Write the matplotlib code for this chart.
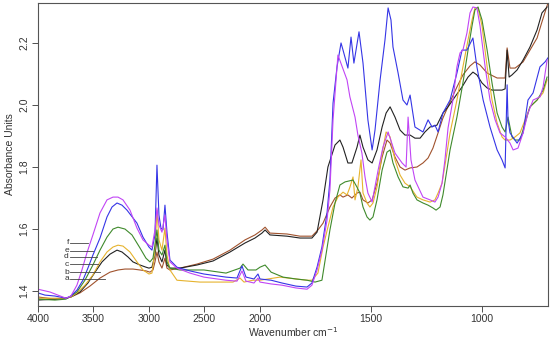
import numpy as np
import matplotlib
matplotlib.use('Agg')
import matplotlib.pyplot as plt

plt.rcParams['font.family'] = ['Liberation Sans', 'DejaVu Sans']

# spectra: (wavenumber, absorbance)
wn_a = [4000, 3847, 3748, 3703, 3622, 3532, 3441, 3351, 3279, 3216, 3144, 3081, 3027, 2991, 2964,
        2946, 2928, 2910, 2883, 2856, 2838, 2811, 2721, 2568, 2423, 2270, 2135, 2045, 1991, 1977,
        1955, 1878, 1820, 1766, 1739, 1716, 1685, 1662, 1640, 1626, 1604, 1586, 1563, 1550, 1536,
        1514, 1495, 1473, 1450, 1428, 1414, 1392, 1369, 1347, 1324, 1293, 1266, 1243, 1221, 1198,
        1176, 1144, 1113, 1086, 1054, 1032, 1009, 977, 932, 896, 887, 874, 851, 815, 784, 752,
        730, 703]
ab_a = [1.381, 1.374, 1.377, 1.381, 1.394, 1.416, 1.442, 1.461, 1.468, 1.471, 1.471, 1.468, 1.465,
        1.461, 1.468, 1.494, 1.526, 1.494, 1.474, 1.506, 1.474, 1.468, 1.474, 1.487, 1.503, 1.532,
        1.565, 1.581, 1.597, 1.606, 1.587, 1.584, 1.577, 1.577, 1.597, 1.619, 1.671, 1.700, 1.710,
        1.703, 1.710, 1.700, 1.716, 1.719, 1.694, 1.684, 1.694, 1.748, 1.832, 1.887, 1.877, 1.832,
        1.800, 1.790, 1.797, 1.800, 1.813, 1.829, 1.861, 1.910, 1.958, 2.010, 2.058, 2.097, 2.126,
        2.139, 2.129, 2.103, 2.087, 2.087, 2.184, 2.119, 2.119, 2.139, 2.177, 2.216, 2.268, 2.329]

wn_b = [4000, 3847, 3748, 3703, 3622, 3550, 3486, 3423, 3351, 3288, 3243, 3189, 3144, 3081, 3027,
        3000, 2973, 2946, 2928, 2910, 2883, 2856, 2838, 2811, 2721, 2568, 2423, 2270, 2135, 2045,
        1991, 1977, 1955, 1878, 1820, 1766, 1743, 1716, 1694, 1662, 1640, 1626, 1604, 1586, 1563,
        1550, 1536, 1514, 1495, 1473, 1450, 1432, 1414, 1392, 1369, 1347, 1324, 1302, 1279, 1257,
        1234, 1203, 1176, 1153, 1122, 1090, 1063, 1041, 1023, 1000, 977, 955, 910, 896, 887, 878,
        865, 842, 815, 784, 752, 730, 707]
ab_b = [1.371, 1.374, 1.377, 1.381, 1.397, 1.426, 1.461, 1.494, 1.519, 1.532, 1.526, 1.510, 1.494,
        1.484, 1.477, 1.474, 1.477, 1.516, 1.571, 1.516, 1.494, 1.532, 1.484, 1.474, 1.474, 1.484,
        1.497, 1.526, 1.555, 1.571, 1.587, 1.597, 1.581, 1.577, 1.571, 1.571, 1.590, 1.694, 1.800,
        1.871, 1.887, 1.864, 1.813, 1.813, 1.864, 1.903, 1.864, 1.823, 1.813, 1.855, 1.929, 1.974,
        1.994, 1.961, 1.919, 1.903, 1.903, 1.893, 1.893, 1.913, 1.929, 1.935, 1.974, 1.994, 2.026,
        2.058, 2.090, 2.106, 2.097, 2.071, 2.055, 2.048, 2.048, 2.052, 2.177, 2.090, 2.097, 2.113,
        2.145, 2.187, 2.242, 2.297, 2.316]

wn_c = [4000, 3847, 3748, 3703, 3649, 3577, 3505, 3441, 3378, 3324, 3279, 3234, 3171, 3108, 3054,
        3000, 2973, 2946, 2928, 2910, 2883, 2856, 2838, 2811, 2748, 2541, 2243, 2180, 2144, 2063,
        2000, 1910, 1838, 1788, 1766, 1739, 1716, 1694, 1671, 1649, 1626, 1608, 1595, 1581, 1572,
        1559, 1545, 1536, 1518, 1505, 1491, 1473, 1450, 1432, 1414, 1392, 1369, 1347, 1324, 1293,
        1266, 1234, 1212, 1198, 1180, 1158, 1144, 1113, 1086, 1063, 1045, 1032, 1018, 1000, 977,
        955, 932, 910, 896, 874, 851, 829, 806, 784, 752, 725, 707]
ab_c = [1.377, 1.377, 1.377, 1.381, 1.394, 1.419, 1.452, 1.494, 1.526, 1.542, 1.548, 1.545, 1.526,
        1.494, 1.468, 1.455, 1.458, 1.532, 1.661, 1.565, 1.532, 1.603, 1.516, 1.468, 1.435, 1.429,
        1.429, 1.442, 1.429, 1.435, 1.435, 1.445, 1.439, 1.435, 1.435, 1.458, 1.542, 1.606, 1.671,
        1.703, 1.719, 1.710, 1.735, 1.768, 1.694, 1.735, 1.823, 1.716, 1.684, 1.671, 1.684, 1.735,
        1.845, 1.913, 1.897, 1.823, 1.774, 1.748, 1.736, 1.703, 1.694, 1.687, 1.694, 1.716, 1.748,
        1.845, 1.910, 2.016, 2.123, 2.210, 2.274, 2.313, 2.313, 2.255, 2.123, 2.016, 1.942, 1.897,
        1.887, 1.887, 1.897, 1.910, 1.952, 1.994, 2.016, 2.039, 2.081]

wn_d = [4000, 3847, 3748, 3703, 3649, 3577, 3505, 3441, 3378, 3324, 3279, 3216, 3153, 3081, 3027,
        2991, 2964, 2946, 2928, 2910, 2883, 2856, 2838, 2811, 2721, 2505, 2306, 2180, 2153, 2108,
        2036, 2000, 1977, 1950, 1896, 1838, 1788, 1752, 1721, 1685, 1662, 1640, 1617, 1581, 1563,
        1550, 1536, 1518, 1505, 1491, 1473, 1450, 1428, 1414, 1401, 1378, 1356, 1333, 1324, 1311,
        1293, 1266, 1243, 1221, 1207, 1189, 1176, 1144, 1113, 1086, 1063, 1045, 1032, 1018, 1000,
        977, 955, 932, 910, 896, 883, 865, 851, 829, 806, 784, 752, 725, 707]
ab_d = [1.374, 1.371, 1.374, 1.384, 1.397, 1.435, 1.484, 1.532, 1.574, 1.600, 1.606, 1.600, 1.581,
        1.539, 1.506, 1.494, 1.506, 1.548, 1.597, 1.532, 1.516, 1.548, 1.494, 1.474, 1.468, 1.468,
        1.458, 1.474, 1.487, 1.468, 1.468, 1.477, 1.484, 1.461, 1.445, 1.439, 1.435, 1.429, 1.435,
        1.597, 1.684, 1.742, 1.752, 1.758, 1.735, 1.716, 1.671, 1.639, 1.629, 1.639, 1.694, 1.790,
        1.848, 1.855, 1.813, 1.768, 1.736, 1.732, 1.742, 1.716, 1.694, 1.684, 1.677, 1.668, 1.661,
        1.671, 1.710, 1.855, 1.961, 2.071, 2.177, 2.255, 2.306, 2.316, 2.274, 2.177, 2.071, 1.974,
        1.929, 1.913, 1.961, 1.897, 1.887, 1.887, 1.942, 1.994, 2.016, 2.048, 2.090]

wn_e = [4000, 3937, 3847, 3748, 3703, 3649, 3595, 3550, 3505, 3441, 3378, 3333, 3288, 3243, 3198,
        3108, 3054, 3000, 2973, 2946, 2928, 2910, 2892, 2874, 2856, 2838, 2811, 2748, 2631, 2505,
        2306, 2207, 2162, 2126, 2054, 2018, 2000, 1950, 1901, 1838, 1788, 1766, 1743, 1721, 1698,
        1685, 1671, 1653, 1635, 1626, 1604, 1590, 1577, 1554, 1536, 1514, 1495, 1482, 1459, 1437,
        1423, 1410, 1401, 1378, 1356, 1338, 1324, 1302, 1266, 1243, 1225, 1212, 1198, 1176, 1144,
        1113, 1090, 1068, 1041, 1023, 995, 964, 932, 910, 896, 887, 883, 874, 842, 815, 793, 770,
        739, 716, 703]
ab_e = [1.394, 1.387, 1.384, 1.377, 1.384, 1.403, 1.435, 1.474, 1.516, 1.571, 1.639, 1.671, 1.684,
        1.677, 1.661, 1.619, 1.574, 1.542, 1.532, 1.581, 1.806, 1.645, 1.603, 1.597, 1.677, 1.590,
        1.500, 1.477, 1.465, 1.455, 1.445, 1.442, 1.481, 1.445, 1.439, 1.455, 1.439, 1.435, 1.426,
        1.416, 1.413, 1.426, 1.477, 1.542, 1.652, 1.758, 2.006, 2.123, 2.200, 2.177, 2.119, 2.219,
        2.135, 2.236, 2.135, 1.952, 1.855, 1.919, 2.081, 2.210, 2.313, 2.274, 2.187, 2.103, 2.016,
        2.000, 2.032, 1.929, 1.913, 1.952, 1.929, 1.935, 1.913, 1.974, 2.016, 2.103, 2.177, 2.177,
        2.216, 2.123, 2.016, 1.929, 1.855, 1.823, 1.797, 2.065, 1.952, 1.910, 1.877, 1.910, 2.016,
        2.039, 2.123, 2.139, 2.152]

wn_f = [4000, 3892, 3748, 3703, 3649, 3604, 3559, 3505, 3441, 3378, 3324, 3279, 3234, 3171, 3108,
        3054, 3000, 2973, 2946, 2928, 2910, 2883, 2856, 2838, 2811, 2748, 2631, 2505, 2306, 2207,
        2162, 2126, 2054, 2018, 2000, 1950, 1901, 1838, 1788, 1766, 1743, 1721, 1698, 1685, 1671,
        1649, 1608, 1595, 1572, 1559, 1541, 1527, 1514, 1495, 1468, 1446, 1423, 1392, 1360, 1342,
        1333, 1320, 1302, 1266, 1234, 1212, 1198, 1180, 1167, 1153, 1131, 1113, 1099, 1086, 1068,
        1054, 1041, 1023, 1009, 986, 964, 941, 919, 896, 874, 860, 838, 815, 793, 770, 739, 725, 707]
ab_f = [1.406, 1.397, 1.377, 1.384, 1.419, 1.468, 1.523, 1.581, 1.652, 1.694, 1.703, 1.703, 1.694,
        1.661, 1.603, 1.565, 1.548, 1.542, 1.597, 1.668, 1.613, 1.590, 1.645, 1.565, 1.494, 1.474,
        1.458, 1.445, 1.435, 1.432, 1.465, 1.432, 1.426, 1.442, 1.429, 1.423, 1.419, 1.410, 1.406,
        1.419, 1.468, 1.532, 1.629, 1.726, 1.952, 2.161, 2.081, 2.026, 1.961, 1.903, 1.845, 1.768,
        1.716, 1.687, 1.790, 1.864, 1.913, 1.845, 1.813, 1.800, 1.961, 1.823, 1.758, 1.703, 1.694,
        1.687, 1.703, 1.748, 1.823, 1.926, 2.016, 2.123, 2.168, 2.177, 2.232, 2.297, 2.316, 2.313,
        2.255, 2.123, 2.016, 1.952, 1.910, 1.897, 1.877, 1.855, 1.861, 1.910, 1.974, 2.016, 2.026,
        2.058, 2.145]

names = ['a', 'b', 'c', 'd', 'e', 'f']
colors = ['#A0522D', '#222222', '#E6B32E', '#3F8A2C', '#3535E6', '#C145F5']
# label height and where its leader line meets the curve
label_y = [1.439, 1.461, 1.487, 1.510, 1.530, 1.556]
leader_end = [3396, 3441, 3460, 3468, 3505, 3550]


def fwd(x):
    x = np.asarray(x, dtype=float)
    return np.where(x > 2000, 2000 + (x - 2000) / 2.0, x)


def inv(t):
    t = np.asarray(t, dtype=float)
    return np.where(t > 2000, 2000 + (t - 2000) * 2.0, t)


fig = plt.figure(figsize=(5.5, 3.43), dpi=100)
ax = fig.add_axes([0.069, 0.108, 0.9273, 0.8834])
ax.set_xscale('function', functions=(fwd, inv))

spectra = [(wn_a, ab_a), (wn_b, ab_b), (wn_c, ab_c), (wn_d, ab_d), (wn_e, ab_e), (wn_f, ab_f)]
for (wn, ab), c in zip(spectra, colors):
    ax.plot(wn, ab, color=c, lw=0.8)

for name, y, x_end in zip(names, label_y, leader_end):
    ax.plot([3712, x_end], [y, y], color='#444444', lw=0.6)
    ax.text(3722, y, name, ha='right', va='center', fontsize=6, color='#333333')

ax.set_xlim(4000, 703)
ax.set_ylim(1.352, 2.329)
ax.set_xticks([4000, 3500, 3000, 2500, 2000, 1500, 1000])
ax.set_xticklabels(['4000', '3500', '3000', '2500', '2000', '1500', '1000'])
ax.set_yticks([1.4, 1.6, 1.8, 2.0, 2.2])
ax.set_yticklabels(['1.4', '1.6', '1.8', '2.0', '2.2'], rotation=90, va='center')
ax.tick_params(labelsize=7.5, colors='#333333', length=4, width=0.6, direction='out', pad=2)
for s in ax.spines.values():
    s.set_color('#555555')
    s.set_linewidth(0.8)
ax.set_xlabel('Wavenumber cm$^{-1}$', fontsize=7.5, color='#333333', labelpad=1)
ax.set_ylabel('Absorbance Units', fontsize=7.5, color='#333333', labelpad=3)

fig.savefig('out.png', dpi=100)
